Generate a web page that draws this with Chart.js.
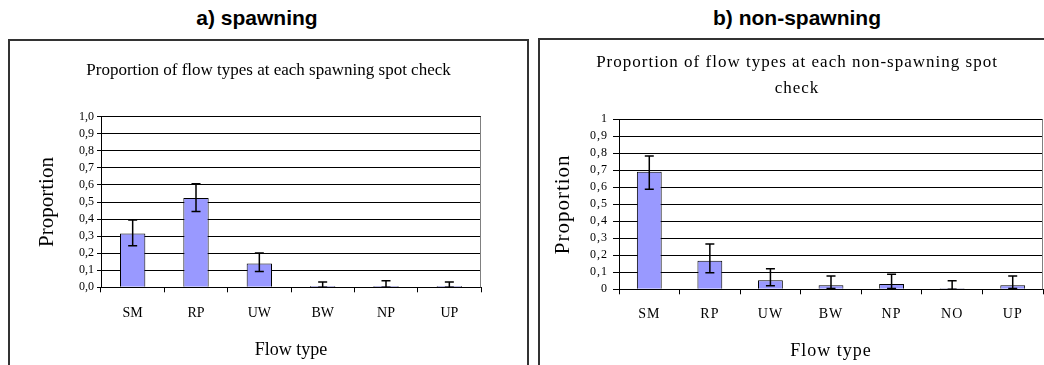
<!DOCTYPE html>
<html>
<head>
<meta charset="utf-8">
<script src="https://cdn.jsdelivr.net/npm/chart.js@4/dist/chart.umd.min.js"></script>
<style>
  html, body { margin: 0; padding: 0; background: #fff; width: 1044px; height: 365px; overflow: hidden; }
  .head { position: absolute; width: 240px; text-align: center; font-family: "Liberation Sans", Arial, sans-serif; font-weight: bold; font-size: 21px; line-height: 21px; color: #000; }
  .box { position: absolute; border: 2px solid #333; border-bottom: none; background: #fff; }
  canvas { position: absolute; left: 0; top: 1px; }
</style>
</head>
<body>
<div class="head" style="left:137px; top:7px;">a) spawning</div>
<div class="head" style="left:677px; top:7px;">b) non-spawning</div>
<div class="box" style="left:8px; top:39px; width:517px; height:330px;"><canvas id="cLeft" width="517" height="324"></canvas></div>
<div class="box" style="left:538px; top:38px; width:520px; height:330px;"><canvas id="cRight" width="514" height="325" style="top:0"></canvas></div>
<script>
// ---------- data ----------
const leftTitle = 'Proportion of flow types at each spawning spot check';
const leftCategories = ['SM', 'RP', 'UW', 'BW', 'NP', 'UP'];
const leftValues   = [0.315, 0.524, 0.139, 0.008, 0.008, 0.008];
const leftErrLow   = [0.243, 0.444, 0.092, 0.000, 0.000, 0.000];
const leftErrHigh  = [0.395, 0.607, 0.201, 0.031, 0.039, 0.031];
const leftYTickLabels = ['0,0', '0,1', '0,2', '0,3', '0,4', '0,5', '0,6', '0,7', '0,8', '0,9', '1,0'];

const rightTitle = ['Proportion of flow types at each non-spawning spot', 'check'];
const rightCategories = ['SM', 'RP', 'UW', 'BW', 'NP', 'NO', 'UP'];
const rightValues  = [0.692, 0.168, 0.053, 0.024, 0.031, 0.006, 0.024];
const rightErrLow  = [0.588, 0.098, 0.021, 0.005, 0.005, 0.000, 0.005];
const rightErrHigh = [0.784, 0.266, 0.121, 0.078, 0.088, 0.051, 0.078];
const rightYTickLabels = ['0', '0,1', '0,2', '0,3', '0,4', '0,5', '0,6', '0,7', '0,8', '0,9', '1'];

const xTitle = 'Flow type';
const yTitle = 'Proportion';

// ---------- chart builder ----------
Chart.defaults.color = '#000';
Chart.defaults.font.family = '"Liberation Serif", "Times New Roman", serif';

function errorBarPlugin(low, high, spacing) {
  return {
    id: 'errbars',
    beforeDraw(chart) { chart.ctx.letterSpacing = spacing; },
    afterDatasetsDraw(chart) {
      const ctx = chart.ctx;
      const y = chart.scales.y;
      const meta = chart.getDatasetMeta(0);
      ctx.save();
      ctx.letterSpacing = '0px';
      ctx.strokeStyle = '#000';
      ctx.lineWidth = 1.5;
      const cap = 4.5;
      meta.data.forEach((bar, i) => {
        const x = bar.x;
        const yl = y.getPixelForValue(low[i]);
        const yh = y.getPixelForValue(high[i]);
        ctx.beginPath();
        ctx.moveTo(x, yl); ctx.lineTo(x, yh);
        ctx.moveTo(x - cap, yh); ctx.lineTo(x + cap, yh);
        ctx.moveTo(x - cap, yl); ctx.lineTo(x + cap, yl);
        ctx.stroke();
      });
      // plot area right border
      const a = chart.chartArea;
      ctx.strokeStyle = '#808080';
      ctx.lineWidth = 1;
      ctx.beginPath();
      ctx.moveTo(Math.round(a.right) - 0.5, a.top);
      ctx.lineTo(Math.round(a.right) - 0.5, a.bottom);
      ctx.stroke();
      ctx.restore();
    },
    afterDraw(chart) { chart.ctx.letterSpacing = '0px'; }
  };
}

function makeChart(id, o) {
  new Chart(document.getElementById(id), {
    type: 'bar',
    data: {
      labels: o.categories,
      datasets: [{
        data: o.values,
        backgroundColor: '#9999FF',
        borderColor: '#000',
        borderWidth: 1,
        barPercentage: o.barPct,
        categoryPercentage: 1.0
      }]
    },
    options: {
      responsive: false,
      animation: false,
      devicePixelRatio: 1,
      layout: { padding: 0 },
      plugins: {
        legend: { display: false },
        tooltip: { enabled: false },
        title: {
          display: true,
          text: o.title,
          font: { size: 17, weight: 'normal', lineHeight: o.titleLH },
          padding: { top: o.titleTop, bottom: o.titleBottom }
        }
      },
      scales: {
        x: {
          grid: { display: true, drawOnChartArea: false, drawTicks: true, tickLength: 5, color: '#000', offset: true },
          border: { display: true, color: '#000', width: 1 },
          ticks: { font: { size: 14 }, padding: o.xTickPad, color: '#000', autoSkip: false, maxRotation: 0 },
          title: { display: true, text: xTitle, font: { size: 18 }, padding: { top: 0, bottom: o.xTitleBottom } },
          afterFit: s => { s.height = o.xHeight; }
        },
        y: {
          min: 0, max: 1,
          ticks: {
            stepSize: 0.1,
            autoSkip: false,
            font: { size: 12 },
            padding: o.yTickPad,
            color: '#000',
            callback: (v, i) => o.yLabels[i]
          },
          grid: { color: '#000', lineWidth: 1, drawTicks: true, tickLength: o.yTickLen },
          border: { display: true, color: '#000', width: 1 },
          title: { display: true, text: yTitle, font: { size: 21 }, padding: { top: o.yTitleTop, bottom: 0 } },
          afterFit: s => { s.width = o.yWidth; }
        },
        y2: {
          type: 'linear',
          position: 'right',
          display: true,
          grid: { display: false, drawTicks: false },
          border: { display: false },
          ticks: { display: false },
          afterFit: s => { s.width = o.padRight; }
        }
      }
    },
    plugins: [errorBarPlugin(o.errLow, o.errHigh, o.spacing)]
  });
}

makeChart('cLeft', {
  categories: leftCategories, values: leftValues, errLow: leftErrLow, errHigh: leftErrHigh,
  yLabels: leftYTickLabels, title: leftTitle,
  titleLH: 1.2, titleTop: 18.8, titleBottom: 35.5,
  xHeight: 78.7, xTickPad: 12.3, xTitleBottom: 4.9,
  yWidth: 91, yTickPad: 3, yTickLen: 4, yTitleTop: 24.9,
  padRight: 46, barPct: 0.4, spacing: '0px'
});

makeChart('cRight', {
  categories: rightCategories, values: rightValues, errLow: rightErrLow, errHigh: rightErrHigh,
  yLabels: rightYTickLabels, title: rightTitle,
  titleLH: '26px', titleTop: 10, titleBottom: 17.3,
  xHeight: 75.7, xTickPad: 11.3, xTitleBottom: 3.2,
  yWidth: 79, yTickPad: 5, yTickLen: 6, yTitleTop: 10.4,
  padRight: 11, barPct: 0.41, spacing: '1px'
});
</script>
</body>
</html>
